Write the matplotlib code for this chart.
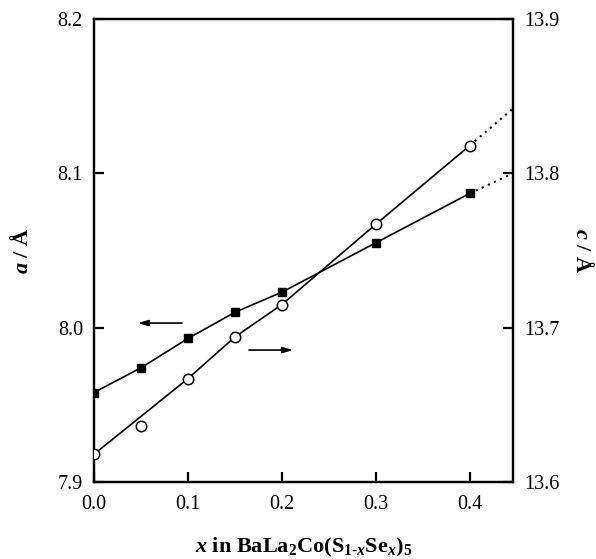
import matplotlib
matplotlib.use('Agg')
from matplotlib import pyplot as plt

# composition x and lattice parameters
x = [0.0, 0.05, 0.10, 0.15, 0.20, 0.30, 0.40]
a_vals = [7.958, 7.974, 7.993, 8.010, 8.023, 8.055, 8.087]
c_vals = [13.618, 13.636, 13.667, 13.694, 13.715, 13.767, 13.818]
# points the solid line for c goes through (x = 0.05 is left off the line)
c_line_x = [0.0, 0.10, 0.15, 0.20, 0.30, 0.40]
c_line_y = [13.618, 13.667, 13.694, 13.715, 13.767, 13.818]
# dotted extrapolation to the right edge
x_edge = 0.446
a_ext = [8.087, 8.100]
c_ext = [13.818, 13.842]

x_ticks = [0.0, 0.1, 0.2, 0.3, 0.4]
a_ticks = [7.9, 8.0, 8.1, 8.2]
c_ticks = [13.6, 13.7, 13.8, 13.9]

plt.rcParams['font.family'] = ['Liberation Serif', 'DejaVu Serif']
plt.rcParams['mathtext.fontset'] = 'custom'
plt.rcParams['mathtext.rm'] = 'Liberation Serif:bold'
plt.rcParams['mathtext.it'] = 'Liberation Serif:italic:bold'
plt.rcParams['mathtext.bf'] = 'Liberation Serif:bold'

fig = plt.figure(figsize=(5.96, 5.59), dpi=100)
ax = fig.add_axes([0.1577, 0.1377, 0.703, 0.8283])
ax2 = ax.twinx()

ax.plot(x, a_vals, '-', color='black', lw=1.2, marker='s', ms=6,
        mfc='black', mec='black', zorder=3)
ax.plot([x[-1], x_edge], a_ext, color='black', lw=1.5,
        linestyle=(0, (1, 2.2)), zorder=2)

ax2.plot(c_line_x, c_line_y, '-', color='black', lw=1.2, zorder=2)
ax2.plot(x, c_vals, 'o', ms=7.5, mfc='white', mec='black', mew=1.1, zorder=3)
ax2.plot([x[-1], x_edge], c_ext, color='black', lw=1.5,
         linestyle=(0, (1, 2.2)), zorder=1)

ax.set_xlim(0, x_edge)
ax.set_ylim(7.9, 8.2)
ax2.set_ylim(13.6, 13.9)

ax.set_xticks(x_ticks)
ax.set_xticklabels(['%.1f' % v for v in x_ticks])
ax.set_yticks(a_ticks)
ax.set_yticklabels(['%.1f' % v for v in a_ticks])
ax2.set_yticks(c_ticks)
ax2.set_yticklabels(['%.1f' % v for v in c_ticks])

ax.tick_params(axis='both', direction='in', length=7, width=1.6,
               labelsize=14.5, top=False)
ax.tick_params(axis='x', pad=9)
ax.tick_params(axis='y', pad=8)
ax2.tick_params(axis='y', direction='in', length=7, width=1.6,
                labelsize=14.5, pad=8)
for a_ in (ax, ax2):
    for sp in a_.spines.values():
        sp.set_linewidth(1.6)

ax.set_xlabel(r'$\mathit{x}$ in BaLa$_2$Co(S$_{1\text{-}\mathit{x}}$Se$_{\mathit{x}}$)$_5$',
              fontsize=16, fontweight='bold', labelpad=16)
ax.set_ylabel(r'$\mathit{a}$ / Å', fontsize=16, fontweight='bold', labelpad=18)
ax2.set_ylabel(r'$\mathit{c}$ / Å', fontsize=16, fontweight='bold',
               rotation=270, ha='center', va='center')
ax2.yaxis.set_label_coords(1.165, 0.5)

# arrows telling which axis each series belongs to
arrow = dict(arrowstyle='-|>,head_length=0.6,head_width=0.18', color='black',
             lw=1.2, shrinkA=0, shrinkB=0)
ax.annotate('', xy=(0.0468, 8.003), xytext=(0.0936, 8.003), arrowprops=arrow)
ax.annotate('', xy=(0.2117, 7.9855), xytext=(0.1649, 7.9855), arrowprops=arrow)

plt.savefig('out.png', dpi=100)
